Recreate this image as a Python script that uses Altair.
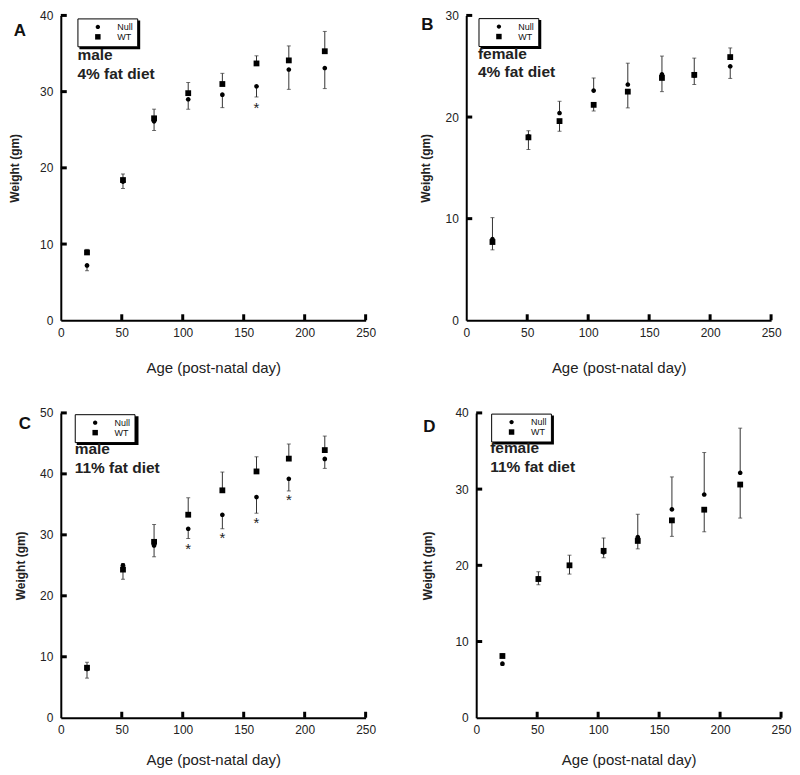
import altair as alt
import pandas as pd

# ---------------- data ----------------
ages = [21.5, 51, 76.5, 104.5, 132.5, 160.5, 187, 216.5]
x_ticks = [0, 50, 100, 150, 200, 250]
groups = ["Null", "WT"]

# Panel A: male, 4% fat diet
a_null = [7.2, 18.2, 26.1, 29.0, 29.6, 30.7, 32.9, 33.1]
a_wt = [8.9, 18.4, 26.5, 29.8, 31.0, 33.7, 34.1, 35.3]
a_null_err = [6.5, 17.3, 24.9, 27.7, 27.9, 29.3, 30.3, 30.4]
a_wt_err = [9.3, 19.2, 27.7, 31.2, 32.4, 34.7, 36.0, 37.9]
a_yticks = [0, 10, 20, 30, 40]
a_star_age = [160.5]
a_star_y = [28.3]

# Panel B: female, 4% fat diet
b_null = [8.0, 18.1, 20.4, 22.6, 23.2, 24.2, 24.1, 25.0]
b_wt = [7.7, 18.0, 19.6, 21.2, 22.5, 23.85, 24.15, 25.9]
b_null_err = [10.1, 18.65, 21.55, 23.85, 25.3, 26.0, 23.2, 23.8]
b_wt_err = [6.93, 16.8, 18.6, 20.6, 20.9, 22.5, 25.8, 26.8]
b_yticks = [0, 10, 20, 30]
b_star_age = []
b_star_y = []

# Panel C: male, 11% fat diet
c_null = [8.0, 25.0, 28.25, 31.0, 33.3, 36.2, 39.2, 42.45]
c_wt = [8.2, 24.3, 28.85, 33.3, 37.3, 40.4, 42.5, 43.9]
c_null_err = [6.5, 25.3, 26.4, 29.4, 31.0, 33.55, 37.2, 40.9]
c_wt_err = [9.1, 22.7, 31.7, 36.07, 40.3, 42.8, 44.9, 46.2]
c_yticks = [0, 10, 20, 30, 40, 50]
c_star_age = [104.5, 132.5, 160.5, 187]
c_star_y = [28.1, 30.05, 32.5, 36.2]

# Panel D: female, 11% fat diet
d_null = [7.1, 18.3, 20.0, 21.7, 23.7, 27.35, 29.3, 32.15]
d_wt = [8.1, 18.2, 20.0, 21.9, 23.2, 25.9, 27.3, 30.6]
d_null_err = [6.9, 19.15, 21.33, 23.6, 26.7, 31.6, 34.8, 38.0]
d_wt_err = [8.4, 17.45, 18.85, 21.0, 22.16, 23.8, 24.4, 26.2]
d_yticks = [0, 10, 20, 30, 40]
d_star_age = []
d_star_y = []

FONT = "Liberation Sans"
W = 306
H = 306
CIRCLE = "M-0.8,0A0.8,0.8 0 1,0 0.8,0A0.8,0.8 0 1,0 -0.8,0Z"
SQUARE = "M-1,-1H1V1H-1Z"


def make_panel(letter, lines, null, wt, null_err, wt_err, yticks,
               star_age, star_y, lay):
    n = len(ages)
    pts = pd.DataFrame({"age": ages * 2, "weight": null + wt,
                        "genotype": ["Null"] * n + ["WT"] * n})
    err = pd.DataFrame({"age": ages * 2, "weight": null + wt,
                        "end": null_err + wt_err})
    caps = pd.DataFrame({"age": ages * 2, "weight": null_err + wt_err})
    stars = pd.DataFrame({"age": star_age, "weight": star_y})
    xt = pd.DataFrame({"age": x_ticks[1:]})
    yt = pd.DataFrame({"weight": yticks[1:]})

    xs = alt.Scale(domain=[x_ticks[0], x_ticks[-1]], nice=False, zero=False, padding=0)
    ys = alt.Scale(domain=[yticks[0], yticks[-1]], nice=False, zero=False, padding=0)
    X = alt.X("age:Q", scale=xs,
              axis=alt.Axis(values=x_ticks, title="Age (post-natal day)",
                            titleFontWeight="normal", titleFontSize=15,
                            titlePadding=lay["xtp"], labelPadding=7,
                            labelFlush=False, labelOverlap=False))
    Y = alt.Y("weight:Q", scale=ys,
              axis=alt.Axis(values=yticks, title="Weight (gm)",
                            titleFontWeight="bold", titleFontSize=12,
                            titlePadding=lay["tp"], labelPadding=8,
                            labelFlush=False, labelOverlap=False))

    one = alt.Data(values=[{"k": 0}])

    bars = alt.Chart(err).mark_rule(color="#333", strokeWidth=1).encode(
        x=X, y=Y, y2="end:Q")
    capm = alt.Chart(caps).mark_tick(color="#333", orient="horizontal",
                                     size=4, thickness=1).encode(x=X, y=Y)
    points = alt.Chart(pts).mark_point(filled=True, opacity=1, size=34).encode(
        x=X, y=Y,
        color=alt.value("black"),
        shape=alt.Shape("genotype:N",
                        scale=alt.Scale(domain=groups, range=[CIRCLE, SQUARE]),
                        legend=alt.Legend(
                            orient="none", legendX=lay["lx"], legendY=lay["ly"],
                            title=None, strokeColor="black",
                            fillColor="white", padding=4, symbolOffset=12,
                            labelOffset=15, labelFontSize=9, labelFont=FONT,
                            labelColor="#111", symbolSize=30, rowPadding=0,
                            symbolStrokeWidth=0, symbolFillColor="black")),
    )
    layers = [bars, capm, points]
    if len(star_age):
        layers.append(alt.Chart(stars).mark_text(
            text="*", fontSize=15, font=FONT, color="#222", dy=3).encode(x=X, y=Y))
    # inward tick marks
    layers.append(alt.Chart(xt).mark_rule(color="black", strokeWidth=3).encode(
        x=X, y=alt.value(H), y2=alt.value(H - 6)))
    layers.append(alt.Chart(yt).mark_rule(color="black", strokeWidth=3).encode(
        y=Y, x=alt.value(0), x2=alt.value(6)))
    # legend shadow
    layers.append(alt.Chart(one).mark_rect(color="black").encode(
        x=alt.value(lay["lx"] + 2), x2=alt.value(lay["lx"] + 2 + lay["lw"]),
        y=alt.value(lay["ly"] + 2), y2=alt.value(lay["ly"] + 2 + lay["lh"])))
    # panel letter and description
    layers.append(alt.Chart(one).mark_text(
        text=letter, font=FONT, fontSize=17, fontWeight="bold", color="#111",
        align="center", baseline="middle").encode(
        x=alt.value(lay["ax"]), y=alt.value(lay["ay"])))
    layers.append(alt.Chart(one).mark_text(
        text=lines, font=FONT, fontSize=15.5, fontWeight="bold", color="#222",
        align="left", baseline="alphabetic", lineHeight=19).encode(
        x=alt.value(lay["tx"]), y=alt.value(lay["ty"])))
    return alt.layer(*layers).properties(width=W, height=H)


pA = make_panel("A", ["male", "4% fat diet"], a_null, a_wt, a_null_err, a_wt_err,
                a_yticks, a_star_age, a_star_y,
                dict(tp=18, xtp=22, lx=16.7, ly=3, lw=61, lh=29, ax=-41, ay=16, tx=16.7, ty=45))
pB = make_panel("B", ["female", "4% fat diet"], b_null, b_wt, b_null_err, b_wt_err,
                b_yticks, b_star_age, b_star_y,
                dict(tp=13, xtp=22, lx=12.3, ly=2.7, lw=61, lh=29, ax=-39, ay=10, tx=11.7, ty=43.3))
pC = make_panel("C", ["male", "11% fat diet"], c_null, c_wt, c_null_err, c_wt_err,
                c_yticks, c_star_age, c_star_y,
                dict(tp=12, xtp=17, lx=14, ly=1.3, lw=62, lh=29, ax=-36, ay=11, tx=14, ty=41.3))
pD = make_panel("D", ["female", "11% fat diet"], d_null, d_wt, d_null_err, d_wt_err,
                d_yticks, d_star_age, d_star_y,
                dict(tp=21, xtp=17, lx=15, ly=0.7, lw=61, lh=29, ax=-47, ay=14, tx=14, ty=40.7))

row1 = alt.hconcat(pA, pB, spacing=42).resolve_scale(
    x="independent", y="independent", shape="independent"
).resolve_legend(shape="independent")
row2 = alt.hconcat(pC, pD, spacing=44).resolve_scale(
    x="independent", y="independent", shape="independent"
).resolve_legend(shape="independent")

chart = alt.vconcat(row1, row2, spacing=32).resolve_scale(
    x="independent", y="independent", shape="independent"
).resolve_legend(shape="independent").properties(
    padding=0, background="white"
).configure_view(stroke=None).configure_axis(
    grid=False, domainColor="black", domainWidth=2, tickSize=0,
    labelFont=FONT, labelFontSize=12, labelColor="#222",
    titleFont=FONT, titleColor="#222"
).configure_legend(strokeWidth=1)

chart.save("out.html", embed_options={"renderer": "svg", "actions": False})
